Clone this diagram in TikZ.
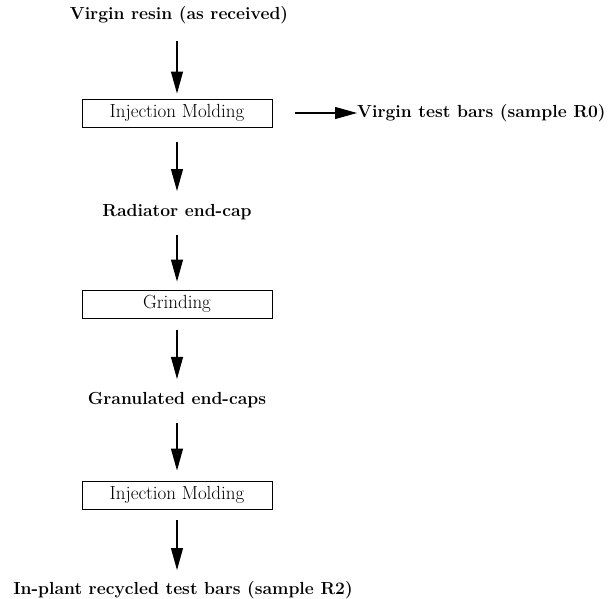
\documentclass[tikz,border=0pt]{standalone}
\usepackage{tikz}
\usetikzlibrary{arrows.meta, positioning}

\begin{document}
\begin{tikzpicture}[
    x=1pt, y=1pt,
    node distance=96pt, on grid,
    label/.style={inner sep=0pt, font=\fontsize{17.5}{20}\selectfont\bfseries},
    block/.style={rectangle, draw, line width=0.9pt, minimum width=190pt, minimum height=28pt, inner sep=0pt, font=\fontsize{19}{22}\selectfont},
    arrow/.style={-{Triangle[length=22pt, width=12pt]}, line width=1.1pt},
]
\useasboundingbox (0,0) rectangle (614,-599);

\node[label] (resin) at (179,-15) {Virgin resin (as received)};
\node[block, below=98pt of resin, xshift=-2pt] (mold1) {Injection Molding};
\node[label, below=99pt of mold1] (endcap) {Radiator end-cap};
\node[block, below=92pt of endcap] (grind) {Grinding};
\node[label, below=96pt of grind] (gran) {Granulated end-caps};
\node[block, below=95pt of gran] (mold2) {Injection Molding};
\node[label, below=95pt of mold2, xshift=6pt] (r2) {In-plant recycled test bars (sample R2)};

\node[label, anchor=west] (r0) at (357,-113) {Virgin test bars (sample R0)};

\draw[arrow, shorten <=17pt, shorten >=5pt]  (mold1.north |- resin.south) -- (mold1.north);
\draw[arrow, shorten <=15pt, shorten >=13pt] (mold1.south) -- (mold1.south |- endcap.north);
\draw[arrow, shorten <=15pt, shorten >=8pt]  (endcap) -- (grind);
\draw[arrow, shorten <=12pt, shorten >=13pt] (grind)  -- (gran);
\draw[arrow, shorten <=15pt, shorten >=10pt] (gran)   -- (mold2);
\draw[arrow, shorten <=11pt, shorten >=11pt] (mold2.south) -- (mold2.south |- r2.north);

% side branch
\draw[arrow, shorten <=23pt] (mold1.east) -- (r0.west);

\end{tikzpicture}
\end{document}
